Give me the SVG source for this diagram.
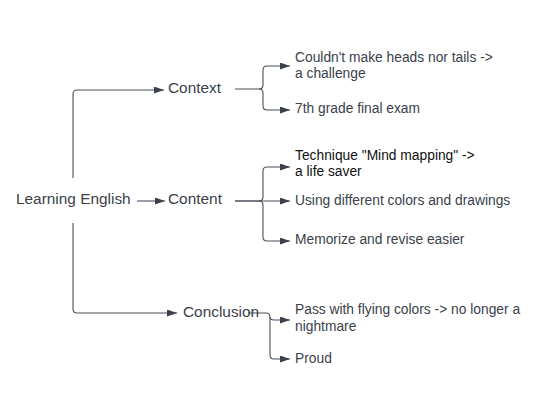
<svg xmlns="http://www.w3.org/2000/svg" width="542" height="405" viewBox="0 0 542 405">
<style>
.c{fill:none;stroke:#4a4f57;stroke-width:1.1}
.a{marker-end:url(#ah)}
.t{font-family:"Liberation Sans",Arial,sans-serif;fill:#3a414a}
.big{font-size:15.4px}
.sm{font-size:13.8px}
.dk{fill:#111}
</style>
<defs>
<marker id="ah" markerUnits="userSpaceOnUse" markerWidth="11" markerHeight="8" refX="10" refY="3.5" orient="auto">
<path d="M0,0 L10,3.5 L0,7 z" fill="#3a414a"/>
</marker>
</defs>
<rect width="542" height="405" fill="#fff"/>
<g id="connectors">
<path class="c a" d="M73,178 V94 Q73,90 77,90 H164"/>
<path class="c a" d="M137,201 H165"/>
<path class="c a" d="M73,223 V309 Q73,313 77,313 H177"/>
<path class="c a" d="M235,89 H259 Q263,89 263,85 V70 Q263,66 267,66 H290"/>
<path class="c a" d="M259,89 Q263,89 263,93 V106 Q263,110 267,110 H290"/>
<path class="c a" d="M235,201 H259 Q263,201 263,197 V171 Q263,167 267,167 H290"/>
<path class="c a" d="M235,201 H290"/>
<path class="c a" d="M259,201 Q263,201 263,205 V237 Q263,241 267,241 H290"/>
<path class="c a" d="M248,313 H266 Q270,313 270,317 Q270,320 274,320 H290"/>
<path class="c a" d="M270,317 V355 Q270,359 274,359 H290"/>
</g>
<g id="root"><text class="t big" x="16" y="204">Learning English</text></g>
<g id="context"><text class="t big" x="168" y="93">Context</text></g>
<g id="content"><text class="t big" x="168" y="204">Content</text></g>
<g id="conclusion"><text class="t big" x="183" y="317">Conclusion</text></g>
<g id="ctx1"><text class="t sm" x="295" y="62">Couldn't make heads nor tails -&gt;</text><text class="t sm" x="295" y="78">a challenge</text></g>
<g id="ctx2"><text class="t sm" x="295" y="113">7th grade final exam</text></g>
<g id="cnt1"><text class="t sm dk" x="295" y="160">Technique "Mind mapping" -&gt;</text><text class="t sm dk" x="295" y="176">a life saver</text></g>
<g id="cnt2"><text class="t sm" x="295" y="205">Using different colors and drawings</text></g>
<g id="cnt3"><text class="t sm" x="295" y="244">Memorize and revise easier</text></g>
<g id="con1"><text class="t sm" x="295" y="314">Pass with flying colors -&gt; no longer a</text><text class="t sm" x="295" y="331">nightmare</text></g>
<g id="con2"><text class="t sm" x="295" y="363">Proud</text></g>
</svg>
